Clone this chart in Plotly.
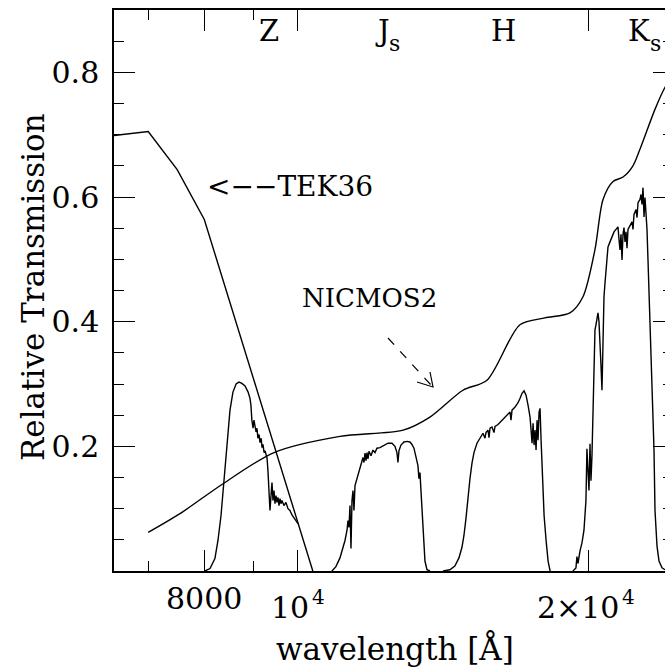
import math
import plotly.graph_objects as go

# ---- transmission curves (wavelength in Angstrom, relative transmission) ----
tek36_wave = [6400, 7000, 7500, 8000, 10360]
tek36_trans = [0.698, 0.705, 0.644, 0.564, 0.0]

nicmos2_wave = [7000, 7550, 8365, 9445, 11052, 12845, 13694, 14813, 15686, 16966,
                18007, 19113, 19716, 20289, 20680, 21179, 21689, 22209, 22587, 23409,
                23972, 24600]
nicmos2_trans = [0.062, 0.092, 0.140, 0.190, 0.216, 0.226, 0.247, 0.290, 0.306, 0.395,
                 0.406, 0.414, 0.440, 0.516, 0.596, 0.625, 0.632, 0.650, 0.677, 0.741,
                 0.776, 0.80]

z_wave = [8010, 8110, 8205, 8265, 8325, 8385, 8445, 8505, 8565, 8630, 8690, 8750, 8815,
          8880, 8920, 8940, 8960, 8985, 9005, 9027, 9050, 9070, 9090, 9115, 9135, 9160,
          9180, 9200, 9225, 9245, 9265, 9290, 9310, 9333, 9355, 9378, 9400, 9422, 9445,
          9467, 9490, 9512, 9535, 9558, 9581, 9603, 9626, 9672, 9718, 9765, 9811, 9858,
          9905, 9952, 10000]
z_trans = [0.0, 0.004, 0.020, 0.049, 0.089, 0.145, 0.210, 0.258, 0.287, 0.300, 0.303,
           0.301, 0.297, 0.287, 0.277, 0.266, 0.242, 0.229, 0.242, 0.234, 0.223, 0.229,
           0.213, 0.219, 0.206, 0.213, 0.198, 0.203, 0.190, 0.193, 0.185, 0.181, 0.161,
           0.121, 0.097, 0.121, 0.142, 0.113, 0.129, 0.108, 0.121, 0.110, 0.118, 0.105,
           0.116, 0.108, 0.113, 0.105, 0.110, 0.100, 0.097, 0.090, 0.085, 0.081, 0.076]

js_wave = [10843, 10946, 11052, 11132, 11185, 11238, 11265, 11292, 11319, 11346, 11373,
           11400, 11427, 11455, 11510, 11565, 11620, 11675, 11703, 11731, 11759, 11787,
           11815, 11843, 11900, 11956, 12013, 12070, 12157, 12273, 12391, 12510, 12599,
           12659, 12689, 12720, 12780, 12872, 12964, 13057, 13119, 13182, 13245, 13308,
           13340, 13372, 13404, 13436, 13468, 13500, 13532, 13597, 13695]
js_trans = [0.0, 0.007, 0.021, 0.036, 0.049, 0.065, 0.081, 0.070, 0.105, 0.036, 0.113,
            0.129, 0.097, 0.137, 0.148, 0.161, 0.173, 0.182, 0.174, 0.189, 0.177, 0.190,
            0.180, 0.192, 0.185, 0.194, 0.190, 0.197, 0.198, 0.202, 0.205, 0.205, 0.200,
            0.190, 0.174, 0.193, 0.202, 0.207, 0.208, 0.207, 0.203, 0.197, 0.184, 0.169,
            0.148, 0.158, 0.129, 0.105, 0.073, 0.041, 0.016, 0.002, 0.0]

h_wave = [14125, 14360, 14530, 14673, 14779, 14849, 14920, 14991, 15063, 15136, 15208,
          15317, 15427, 15538, 15612, 15649, 15724, 15762, 15800, 15875, 15951, 15989,
          16104, 16218, 16335, 16452, 16571, 16610, 16650, 16770, 16890, 16972, 17052,
          17134, 17216, 17298, 17381, 17423, 17464, 17506, 17548, 17589, 17631, 17673,
          17715, 17758, 17800, 17843, 17886, 17929, 17972, 18058, 18144, 18231]
h_trans = [0.0, 0.002, 0.008, 0.021, 0.038, 0.057, 0.084, 0.121, 0.148, 0.173, 0.190,
           0.205, 0.214, 0.221, 0.213, 0.222, 0.226, 0.214, 0.229, 0.231, 0.222, 0.232,
           0.235, 0.240, 0.245, 0.250, 0.255, 0.242, 0.258, 0.263, 0.270, 0.277, 0.285,
           0.289, 0.282, 0.266, 0.247, 0.226, 0.205, 0.237, 0.202, 0.226, 0.194, 0.242,
           0.210, 0.255, 0.261, 0.210, 0.161, 0.118, 0.089, 0.049, 0.016, 0.0]

ks_wave = [19251, 19389, 19435, 19482, 19575, 19668, 19762, 19809, 19856, 19903, 19953,
           20000, 20048, 20096, 20143, 20191, 20240, 20288, 20336, 20385, 20434, 20482,
           20531, 20580, 20629, 20679, 20728, 20778, 20827, 20877, 20927, 21027, 21127,
           21228, 21330, 21431, 21483, 21534, 21585, 21637, 21688, 21740, 21792, 21844,
           21896, 21948, 22053, 22158, 22211, 22264, 22371, 22424, 22478, 22585, 22639,
           22693, 22747, 22801, 22855, 22909, 22964, 23019, 23074, 23129, 23184, 23239,
           23294, 23350, 23406, 23518, 23630, 23800, 23970]
ks_trans = [0.0, 0.005, 0.023, 0.012, 0.032, 0.045, 0.065, 0.086, 0.113, 0.196, 0.161,
            0.129, 0.204, 0.145, 0.185, 0.274, 0.346, 0.387, 0.395, 0.406, 0.414, 0.400,
            0.371, 0.330, 0.290, 0.371, 0.440, 0.462, 0.483, 0.503, 0.520, 0.528, 0.536,
            0.544, 0.548, 0.552, 0.532, 0.515, 0.540, 0.499, 0.540, 0.551, 0.528, 0.544,
            0.518, 0.548, 0.554, 0.560, 0.548, 0.572, 0.580, 0.567, 0.591, 0.596, 0.604,
            0.588, 0.615, 0.568, 0.599, 0.572, 0.548, 0.499, 0.451, 0.408, 0.355, 0.301,
            0.242, 0.194, 0.097, 0.040, 0.016, 0.005, 0.002]

# ---- axes ----
x_range = [6452, 23970]
y_range = [0.0, 0.9]
x_major = [8000, 10000, 20000]
# tick label = mantissa text + optional exponent drawn as a raised small "4"
x_major_base = ["8000", "10", "2×10"]
x_major_base_pos = [8000, 10290, 21533]
x_major_base_anchor = ["center", "right", "right"]
x_major_exp = ["", "4", "4"]
x_major_exp_pos = [None, 10327, 21610]
x_minor = [7000, 9000]
y_major = [0.2, 0.4, 0.6, 0.8]
y_major_text = ["0.2", "0.4", "0.6", "0.8"]

# band names placed above the passbands; a subscript "s" follows J and K
band_names = ["Z", "J", "H", "K"]
band_pos = [9333, 12231, 16297, 22535]
band_sub = ["", "s", "", "s"]
band_sub_pos = [None, 12596, None, 23407]

FONT = "DejaVu Serif"
LINE = dict(color="black", width=1.4)

fig = go.Figure()
for w, t in [(z_wave, z_trans), (js_wave, js_trans), (h_wave, h_trans), (ks_wave, ks_trans)]:
    fig.add_trace(go.Scatter(x=w, y=t, mode="lines", line=LINE, hoverinfo="skip"))
fig.add_trace(go.Scatter(x=tek36_wave, y=tek36_trans, mode="lines", line=LINE, hoverinfo="skip"))
fig.add_trace(go.Scatter(x=nicmos2_wave, y=nicmos2_trans, mode="lines",
                         line=dict(color="black", width=1.4, shape="spline", smoothing=0.8),
                         hoverinfo="skip"))
# empty trace that carries the right-hand tick axis
fig.add_trace(go.Scatter(x=[], y=[], yaxis="y2", hoverinfo="skip"))

W, H = 665, 669
ML, MT, MB, MR = 114, 10, 98, 0
PW, PH = W - ML - MR, H - MT - MB


def px(xp):
    return (xp - ML) / PW


def py(yp):
    return (H - MB - yp) / PH


annotations = []
for base, bpos, banc, exp, epos in zip(x_major_base, x_major_base_pos, x_major_base_anchor,
                                       x_major_exp, x_major_exp_pos):
    annotations.append(dict(x=math.log10(bpos), y=py(607.5 if exp else 598),
                            xref="x", yref="paper", text=base, showarrow=False, borderpad=0,
                            font=dict(family=FONT, size=30, color="black"),
                            xanchor=banc, yanchor="middle"))
    if exp:
        annotations.append(dict(x=math.log10(epos), y=py(597), xref="x", yref="paper",
                                text=exp, showarrow=False, borderpad=0,
                                font=dict(family=FONT, size=20, color="black"),
                                xanchor="left", yanchor="middle"))
for name, pos, sub, spos in zip(band_names, band_pos, band_sub, band_sub_pos):
    annotations.append(dict(x=math.log10(pos), y=0.866, xref="x", yref="y", text=name,
                            showarrow=False, font=dict(family=FONT, size=29, color="black"),
                            xanchor="center", yanchor="middle"))
    if sub:
        annotations.append(dict(x=math.log10(spos), y=0.846, xref="x", yref="y", text=sub,
                                showarrow=False, font=dict(family=FONT, size=22, color="black"),
                                xanchor="center", yanchor="middle"))
annotations.append(dict(x=math.log10(8014), y=0.617, xref="x", yref="y",
                        text="&lt;−−TEK36", showarrow=False,
                        font=dict(family=FONT, size=28, color="black"),
                        xanchor="left", yanchor="middle"))
annotations.append(dict(x=math.log10(10048), y=0.438, xref="x", yref="y",
                        text="NICMOS2", showarrow=False,
                        font=dict(family=FONT, size=26, color="black"),
                        xanchor="left", yanchor="middle"))
annotations.append(dict(x=px(395), y=py(648), xref="paper", yref="paper",
                        text="wavelength [Å]", showarrow=False,
                        font=dict(family=FONT, size=31, color="black"),
                        xanchor="center", yanchor="middle"))
annotations.append(dict(x=px(33), y=py(287), xref="paper", yref="paper",
                        text="Relative Transmission", showarrow=False, textangle=-90,
                        font=dict(family=FONT, size=31, color="black"),
                        xanchor="center", yanchor="middle"))

shapes = [
    dict(type="line", xref="paper", yref="paper", x0=px(388), y0=py(338), x1=px(431), y1=py(385),
         line=dict(color="black", width=1.2, dash="dash")),
    dict(type="path", xref="paper", yref="paper",
         path=f"M {px(417)},{py(382)} L {px(433)},{py(387)} L {px(430)},{py(372)}",
         line=dict(color="black", width=1.2)),
]

fig.update_layout(
    width=W, height=H,
    margin=dict(l=ML, r=MR, t=MT, b=MB, pad=0),
    paper_bgcolor="white", plot_bgcolor="white",
    showlegend=False,
    font=dict(family=FONT, size=30, color="black"),
    annotations=annotations,
    shapes=shapes,
    xaxis=dict(type="log", range=[math.log10(x_range[0]), math.log10(x_range[1])],
               showgrid=False, zeroline=False, showline=True, linecolor="black", linewidth=1.5,
               mirror="ticks", ticks="inside", ticklen=21, tickwidth=1.3, tickcolor="black",
               tickmode="array", tickvals=x_major, showticklabels=False,
               minor=dict(tickmode="array", tickvals=x_minor, ticks="inside", ticklen=10,
                          tickwidth=1.3, tickcolor="black", showgrid=False)),
    yaxis=dict(range=y_range, showgrid=False, zeroline=False, showline=True,
               linecolor="black", linewidth=1.5, mirror=False,
               ticks="inside", ticklen=21, tickwidth=1.3, tickcolor="black",
               tickmode="array", tickvals=y_major, ticktext=y_major_text,
               tickfont=dict(family=FONT, size=30), ticklabelstandoff=7,
               minor=dict(tick0=0, dtick=0.05, ticks="inside", ticklen=10, tickwidth=1.3,
                          tickcolor="black", showgrid=False)),
    yaxis2=dict(range=y_range, overlaying="y", side="right", anchor="x",
                showgrid=False, zeroline=False, showline=False, showticklabels=False,
                ticks="inside", ticklen=12, tickwidth=1.3, tickcolor="black",
                tickmode="array", tickvals=y_major,
                minor=dict(tick0=0, dtick=0.05, ticks="inside", ticklen=2, tickwidth=1.3,
                           tickcolor="black", showgrid=False)),
)

fig.write_html("out.html")
